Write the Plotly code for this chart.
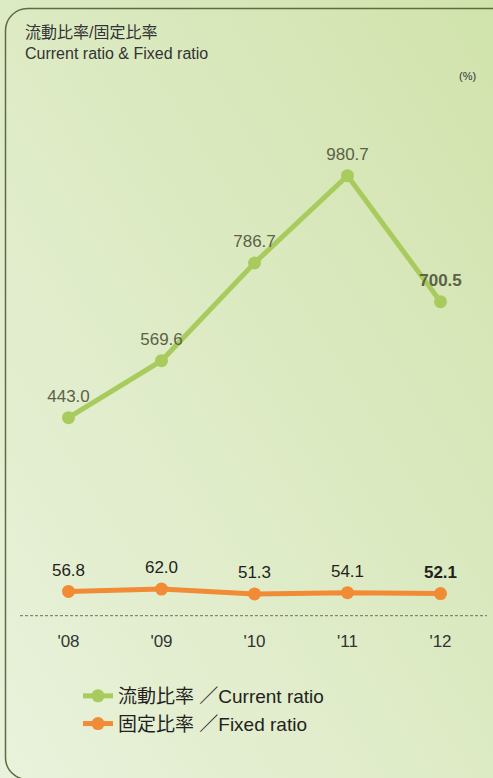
import base64
import plotly.graph_objects as go

# ---- data ----
years = ["'08", "'09", "'10", "'11", "'12"]
current_ratio = [443.0, 569.6, 786.7, 980.7, 700.5]
fixed_ratio = [56.8, 62.0, 51.3, 54.1, 52.1]
current_name = "流動比率 ／Current ratio"
fixed_name = "固定比率 ／Fixed ratio"
title_jp = "流動比率/固定比率"
title_en = "Current ratio & Fixed ratio"
unit_label = "(%)"

W, H = 493, 778
ML, MR, MT, MB = 22, 6, 122, 161
PW, PH = W - ML - MR, H - MT - MB

FONT = "Liberation Sans, Arial, Helvetica, 'Noto Sans CJK JP', sans-serif"
GREEN = "#a9cb5d"
ORANGE = "#f28b35"


def px(xp):
    return (xp - ML) / PW


def py(yp):
    return (H - MB - yp) / PH


def labels(vals):
    out = [f"{v:.1f}" for v in vals]
    out[-1] = f"<b>{out[-1]}</b>"
    return out


x_idx = list(range(len(years)))

fig = go.Figure()
fig.add_trace(go.Scatter(
    x=x_idx, y=current_ratio, mode="lines+markers", name=current_name,
    line=dict(color=GREEN, width=5), marker=dict(color=GREEN, size=13),
    hoverinfo="skip"))
fig.add_trace(go.Scatter(
    x=x_idx, y=fixed_ratio, mode="lines+markers", name=fixed_name,
    line=dict(color=ORANGE, width=5), marker=dict(color=ORANGE, size=13),
    hoverinfo="skip"))
fig.add_trace(go.Scatter(
    x=x_idx, y=current_ratio, mode="markers+text", text=labels(current_ratio),
    textposition="top center", showlegend=False, hoverinfo="skip",
    marker=dict(size=17, opacity=0),
    textfont=dict(color="#5c6248", size=17, family=FONT)))
fig.add_trace(go.Scatter(
    x=x_idx, y=fixed_ratio, mode="markers+text", text=labels(fixed_ratio),
    textposition="top center", showlegend=False, hoverinfo="skip",
    marker=dict(size=17, opacity=0),
    textfont=dict(color="#231f20", size=17, family=FONT)))

svg = f'''<svg xmlns="http://www.w3.org/2000/svg" width="{W}" height="{H}" viewBox="0 0 {W} {H}">
<defs><linearGradient id="g" x1="0" y1="1" x2="1" y2="0">
<stop offset="0" stop-color="#e9f2dc"/><stop offset="1" stop-color="#d1e3ac"/>
</linearGradient></defs>
<rect x="0" y="0" width="{W}" height="{H}" fill="url(#g)"/>
<rect x="5.5" y="8.5" width="508" height="771" rx="22" ry="22" fill="none" stroke="#5f6b42" stroke-width="1.5"/>
</svg>'''
src = "data:image/svg+xml;base64," + base64.b64encode(svg.encode()).decode()

fig.update_layout(
    width=W, height=H, autosize=False,
    margin=dict(l=ML, r=MR, t=MT, b=MB, pad=0),
    paper_bgcolor="#dcebc4", plot_bgcolor="rgba(0,0,0,0)",
    font=dict(family=FONT, color="#333333"),
    showlegend=True,
    legend=dict(x=px(78), y=py(677), xanchor="left", yanchor="top",
                bgcolor="rgba(0,0,0,0)", font=dict(size=19, color="#231f20", family=FONT),
                tracegroupgap=0),
    xaxis=dict(range=[-0.5, 4.5], tickvals=x_idx, ticktext=years, showgrid=False,
               zeroline=False, showline=False, ticks="outside", ticklen=9,
               tickcolor="rgba(0,0,0,0)", tickfont=dict(size=17, color="#333333"),
               fixedrange=True),
    yaxis=dict(range=[0, 1100], visible=False, fixedrange=True),
    images=[dict(source=src, xref="paper", yref="paper", x=px(0), y=py(0),
                 sizex=W / PW, sizey=H / PH, xanchor="left", yanchor="top",
                 sizing="stretch", layer="below")],
    shapes=[dict(type="line", xref="paper", yref="paper", x0=px(20), x1=px(487),
                 y0=py(615.7), y1=py(615.7),
                 line=dict(color="#6f6f60", width=1, dash="3px,2px"), layer="below")],
    annotations=[
        dict(text=title_jp, xref="paper", yref="paper", x=px(23), y=py(33),
             xanchor="left", yanchor="middle", showarrow=False,
             font=dict(size=16, color="#333333")),
        dict(text=title_en, xref="paper", yref="paper", x=px(23), y=py(53),
             xanchor="left", yanchor="middle", showarrow=False,
             font=dict(size=16, color="#333333")),
        dict(text=unit_label, xref="paper", yref="paper", x=px(478), y=py(76),
             xanchor="right", yanchor="middle", showarrow=False,
             font=dict(size=11, color="#333333")),
    ],
)

fig.write_html("out.html", config={"displayModeBar": False, "staticPlot": True},
               post_script="document.body.style.margin='0';document.body.style.overflow='hidden';")
